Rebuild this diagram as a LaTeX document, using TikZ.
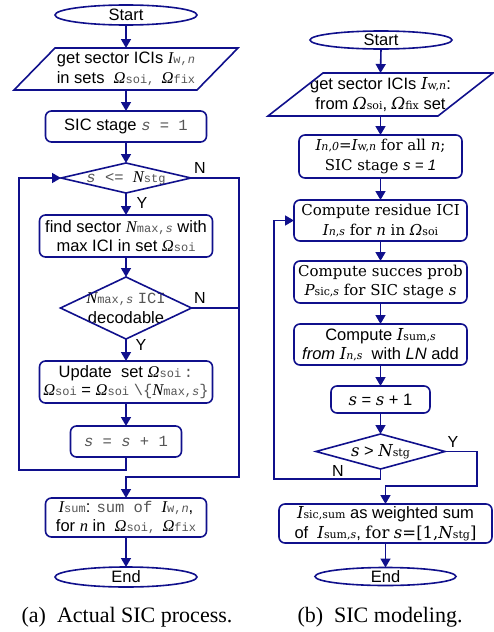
\documentclass[tikz,border=0pt]{standalone}
\usepackage{fontspec}
\setmainfont{Liberation Sans}
\newfontfamily\arialfont{Liberation Sans}
\newfontfamily\capfont{Liberation Serif}
\newfontfamily\tmsfont{Liberation Serif}
\newfontfamily\codefont{Liberation Mono}
\newfontfamily\schfont{DejaVu Serif}
\usetikzlibrary{arrows.meta,shapes.geometric,calc}
\definecolor{navy}{RGB}{16,16,140}
\definecolor{codegray}{RGB}{85,85,85}

% chart (a): italic variables in Times, code-like parts in a typewriter face
\newcommand\vIt[1]{{\tmsfont\itshape #1}}
\newcommand\codeT[1]{{\codefont\color{codegray}\fontsize{15.5}{19}\selectfont #1}}
\newcommand\codeS[1]{{\codefont\color{codegray}\fontsize{12}{14}\selectfont #1}}
% chart (b): variables and indices in a wide serif face
\newcommand\sIt[1]{{\schfont\itshape #1}}
\newcommand\sSub[1]{{\schfont\fontsize{11}{14}\selectfont #1}}

\begin{document}
\begin{tikzpicture}[x=1pt,y=-1pt,
  every node/.style={inner sep=0pt, outer sep=0pt},
  flow/.style={draw=navy, line width=1.6pt},
  arr/.style={flow, -{Triangle[length=9pt,width=10pt]}},
  sansT/.style={font=\arialfont\fontsize{16.5}{19.5}\selectfont},
  serT/.style={font=\schfont\fontsize{15}{19.5}\selectfont},
  term/.style={ellipse, draw=navy, line width=1.6pt, sansT},
  box/.style={rectangle, rounded corners=6pt, draw=navy, line width=1.6pt, align=center},
  holder/.style={rectangle, align=center},
  lab/.style={font=\arialfont\fontsize{16}{18}\selectfont},
  captext/.style={font=\capfont\fontsize{22}{26}\selectfont}
]
\useasboundingbox (0,0) rectangle (493,632);
\fill[white] (0,0) rectangle (493,632);

% ---------------- (a) actual SIC process ----------------
\node[term, minimum width=142pt, minimum height=20pt] (aS) at (126,15) {Start};

\node[holder, sansT, minimum width=183pt, minimum height=42pt] (aP) at (126,69)
  {get sector ICIs \vIt{I}\codeS{w,\textit{n}}\\in sets \ \vIt{Ω}\codeS{soi, }\vIt{Ω}\codeS{fix}};
\draw[flow] ($(aP.north west)+(20.5,0)$) -- ($(aP.north east)+(20.5,0)$)
  -- ($(aP.south east)+(-20.5,0)$) -- ($(aP.south west)+(-20.5,0)$) -- cycle;

\node[box, sansT, minimum width=161pt, minimum height=31pt] (aI) at (126,126.5)
  {SIC stage \codeT{\textit{s} = 1}};

\node[holder, sansT, minimum width=130pt, minimum height=30pt] (aD1) at (126,178)
  {\codeT{\textit{s} <= }\vIt{N}\codeS{stg}};
\draw[flow] (aD1.west) -- (aD1.north) -- (aD1.east) -- (aD1.south) -- cycle;

\node[box, sansT, minimum width=173pt, minimum height=42pt] (aF) at (126,236)
  {find sector \vIt{N}\codeS{max,\textit{s}} with\\max ICI in set \vIt{Ω}\codeS{soi}};

\node[holder, sansT, minimum width=131pt, minimum height=62pt] (aD2) at (126,308)
  {\vIt{N}\codeS{max,\textit{s}} \codeT{ICI}\\decodable};
\draw[flow] (aD2.west) -- (aD2.north) -- (aD2.east) -- (aD2.south) -- cycle;

\node[box, sansT, minimum width=173pt, minimum height=42pt] (aU) at (126,382)
  {Update \ set \vIt{Ω}\codeS{soi}\,\codeT{:}\\[-1pt]\vIt{Ω}\codeS{soi} = \vIt{Ω}\codeS{soi} \codeT{\textbackslash\{}\vIt{N}\codeS{max,\textit{s}}\codeT{\}}};

\node[box, sansT, minimum width=111pt, minimum height=31pt] (aInc) at (126,441.5)
  {\codeT{\textit{s} = \textit{s} + 1}};

\node[box, sansT, minimum width=161pt, minimum height=39pt] (aSum) at (126,517.5)
  {\vIt{I}\codeS{sum}: \codeT{sum of }\vIt{I}\codeS{w,\textit{n}},\\for \vIt{n} in \ \vIt{Ω}\codeS{soi, }\vIt{Ω}\codeS{fix}};

\node[term, minimum width=142pt, minimum height=20pt] (aE) at (126,577) {End};

\coordinate (aLoop) at (19,470);
\coordinate (aRight) at (239,477);

\draw[arr] (aS.south) -- (aP.north);
\draw[arr] (aP.south) -- (aI.north);
\draw[arr] (aI.south) -- (aD1.north);
\draw[arr] (aD1.south) -- (aF.north);
\draw[arr] (aF.south) -- (aD2.north);
\draw[arr] (aD2.south) -- (aU.north);
\draw[arr] (aU.south) -- (aInc.north);
\draw[arr] (aInc.south) |- (aLoop) |- (aD1.west);
\draw[arr] (aD1.east) -| (aRight) -| (aSum.north);
\draw[flow] (aD2.east) -- (aD2.east -| aRight);
\draw[arr] (aSum.south) -- (aE.north);

\node[lab] (aN1) at (200,168) {N};
\node[lab] (aY1) at (142,203) {Y};
\node[lab] (aN2) at (200,298) {N};
\node[lab] (aY2) at (141,345) {Y};

\node[captext] (capA) at (127,617) {(a)\ \ Actual SIC process.};

% ---------------- (b) SIC modeling ----------------
\node[term, minimum width=142pt, minimum height=18pt] (bS) at (381,40) {Start};

\node[holder, sansT, minimum width=170pt, minimum height=43pt] (bP) at (380.5,94.5)
  {get sector ICIs \sIt{I}\sSub{w,\textit{n}}:\\from \sIt{Ω}\sSub{soi}, \sIt{Ω}\sSub{fix} set};
\draw[flow] ($(bP.north west)+(27.5,0)$) -- ($(bP.north east)+(27.5,0)$)
  -- ($(bP.south east)+(-27.5,0)$) -- ($(bP.south west)+(-27.5,0)$) -- cycle;

\node[box, serT, minimum width=163pt, minimum height=43pt] (bI) at (380.5,156.5)
  {\sIt{I}\sSub{\textit{n},\textit{0}}=\sIt{I}\sSub{w,\textit{n}} for all \sIt{n};\\SIC stage {\arialfont\itshape s = 1}};

\node[box, serT, minimum width=173pt, minimum height=41pt] (bR) at (380.5,220.5)
  {Compute residue ICI\\\sIt{I}\sSub{\textit{n},\textit{s}} for \sIt{n} in \sIt{Ω}\sSub{soi}};

\node[box, serT, minimum width=173pt, minimum height=42pt] (bC) at (380.5,282)
  {Compute succes prob\\\sIt{P}\sSub{sic,\textit{s}} for SIC stage \sIt{s}};

\node[box, sansT, minimum width=173pt, minimum height=41pt] (bSum) at (380.5,344.5)
  {Compute \sIt{I}\sSub{sum,\textit{s}}\\\textit{from} \sIt{I}\sSub{\textit{n},\textit{s}} \ with \textit{LN} add};

\node[box, sansT, minimum width=99pt, minimum height=27pt] (bInc) at (380.5,399.5)
  {\sIt{s} = \sIt{s} + 1};

\node[holder, sansT, minimum width=129pt, minimum height=35pt] (bD) at (380.5,451.5)
  {\sIt{s} > \sIt{N}\sSub{stg}};
\draw[flow] (bD.west) -- (bD.north) -- (bD.east) -- (bD.south) -- cycle;

\node[box, sansT, minimum width=213pt, minimum height=39pt] (bW) at (385.5,523.5)
  {\sIt{I}\sSub{sic,sum} as weighted sum\\of \ \sIt{I}\sSub{sum,\textit{s}}, {\schfont for} \sIt{s}{\schfont =[1,}\sIt{N}\sSub{stg}{\schfont ]}};

\node[term, minimum width=141pt, minimum height=18pt] (bE) at (385.5,576.5) {End};

\coordinate (bLoop) at (274,479);
\coordinate (bRight) at (477,486);

\draw[arr] (bS.south) -- (bP.north);
\draw[arr] (bP.south) -- (bI.north);
\draw[arr] (bI.south) -- (bR.north);
\draw[arr] (bR.south) -- (bC.north);
\draw[arr] (bC.south) -- (bSum.north);
\draw[arr] (bSum.south) -- (bInc.north);
\draw[arr] (bInc.south) -- (bD.north);
\draw[arr] (bD.south) |- (bLoop) |- (bR.west);
\draw[arr] (bD.east) -| (bRight) -| (bW.north);
\draw[arr] (bW.south) -- (bE.north);

\node[lab] (bYl) at (453,442) {Y};
\node[lab] (bNl) at (338,471) {N};

\node[captext] (capB) at (380,617) {(b)\ \ SIC modeling.};
\end{tikzpicture}
\end{document}
